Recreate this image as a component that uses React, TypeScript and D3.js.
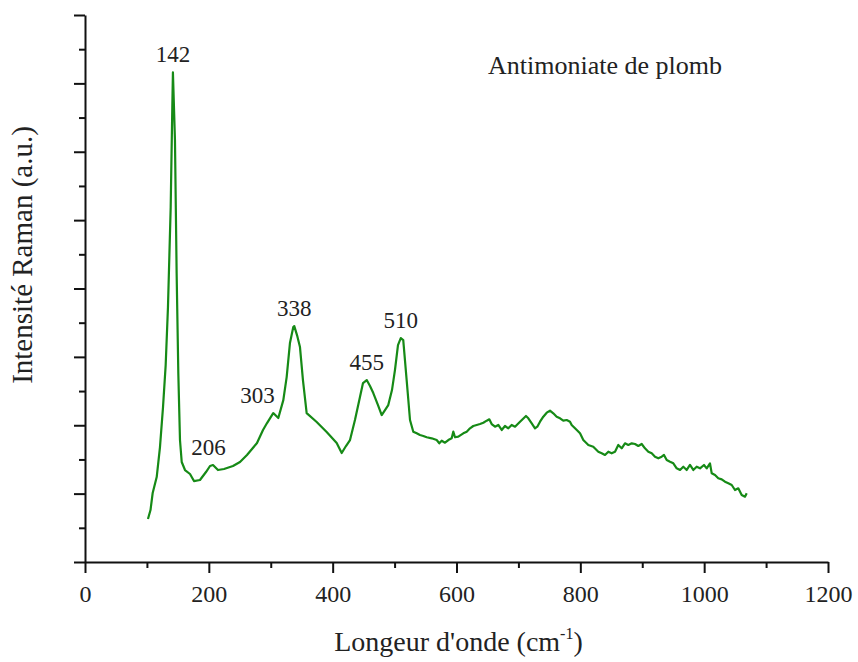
import { useEffect, useRef } from "react";
import * as d3 from "d3";

// Raman spectrum (wavenumber in cm-1, intensity in a.u.)
const wavenumbers = [
  101.7, 105.8, 109.3, 115.8, 121.1, 126, 130.3, 134, 138.4, 141, 142, 145.3, 148, 150.7, 153.4,
  156.2, 161.5, 169.6, 176, 185.7, 195.4, 201.9, 206.7, 214.8, 224.5, 239, 250.3, 261.6, 277.8,
  287.5, 294, 304, 312.2, 320.3, 325.7, 331, 336.4, 338, 342.4, 347.2, 352, 358, 374.2, 390.3,
  406.5, 414.6, 421.5, 428, 436, 444.1, 449, 455, 460.3, 465.6, 473.2, 479.2, 484.5, 489.8, 495.8,
  500.6, 505.5, 510, 514, 519.5, 522.2, 524.9, 530.2, 535.7, 541, 546.4, 551.9, 559.9, 568,
  572.2, 576.1, 581.4, 586.8, 592.2, 594.8, 597.6, 602.9, 611, 616.5, 621.8, 627.1, 632.6, 638,
  643.3, 648.8, 653, 656.8, 662.2, 667.5, 673, 678.3, 683.7, 689.1, 694.5, 702.6, 712.2, 716,
  721.5, 726.8, 730.5, 734.9, 740.2, 745.7, 751, 756.3, 761.8, 767.2, 772.5, 778, 783.3, 786,
  791.4, 799.5, 804.8, 812.9, 820.9, 829, 834.5, 839.8, 845.2, 850.6, 856, 861.3, 866.8, 872.1,
  877.5, 883, 888.3, 893.6, 899.1, 904.4, 909.8, 915.3, 920.6, 925.9, 931.4, 935.1, 939.5, 944.8,
  950.2, 955.6, 961, 966.3, 971.8, 977.1, 982.4, 987.9, 993.3, 999.7, 1004.1, 1009.4, 1012.2,
  1017.5, 1022.8, 1028.3, 1033.6, 1039, 1044.5, 1049.8, 1055.1, 1060.6, 1065.9, 1068.7,
];
const intensities = [
  629, 760, 1009, 1243, 1681, 2266, 2880, 3728, 5190, 6652, 7160, 6170, 4225, 2763, 1784, 1462,
  1345, 1287, 1184, 1199, 1316, 1404, 1418, 1345, 1360, 1404, 1462, 1564, 1740, 1930, 2032, 2178,
  2105, 2368, 2705, 3202, 3436, 3450, 3319, 3143, 2661, 2178, 2047, 1900, 1740, 1594, 1696, 1784,
  2076, 2412, 2617, 2661, 2573, 2471, 2295, 2149, 2222, 2295, 2515, 2807, 3173, 3275, 3246, 2661,
  2369, 2077, 1906, 1882, 1857, 1843, 1824, 1809, 1784, 1736, 1774, 1745, 1784, 1809, 1906, 1824,
  1833, 1882, 1906, 1955, 1989, 2004, 2018, 2037, 2067, 2087, 2018, 1979, 2004, 1931, 1989, 1955,
  2004, 1979, 2052, 2135, 2102, 2028, 1955, 1979, 2052, 2125, 2184, 2213, 2175, 2125, 2102, 2067,
  2077, 2052, 2004, 1955, 1882, 1784, 1711, 1686, 1613, 1590, 1565, 1613, 1590, 1613, 1711, 1663,
  1736, 1711, 1736, 1726, 1697, 1726, 1663, 1613, 1590, 1540, 1517, 1540, 1565, 1492, 1467, 1443,
  1370, 1346, 1394, 1346, 1419, 1346, 1394, 1370, 1419, 1370, 1443, 1297, 1272, 1224, 1209, 1174,
  1151, 1126, 1053, 1078, 980, 955, 1005,
];

const peakPositions = [142, 206, 303, 338, 455, 510];
const peakNames = ["142", "206", "303", "338", "455", "510"];

const xMajorTicks = [0, 200, 400, 600, 800, 1000, 1200];
const xMinorTicks = [100, 300, 500, 700, 900, 1100];
const yMajorTicks = [0, 1000, 2000, 3000, 4000, 5000, 6000, 7000, 8000];
const yMinorTicks = [500, 1500, 2500, 3500, 4500, 5500, 6500, 7500];

const title = "Antimoniate de plomb";

const W = 858;
const H = 662;
const FONT = "'Liberation Serif', 'Times New Roman', serif";
const GREEN = "#168a16";

export default function App() {
  const svgRef = useRef<SVGSVGElement | null>(null);

  useEffect(() => {
    const svg = d3.select(svgRef.current);
    svg.selectAll("*").remove();

    const margin = { top: 15, right: 30, bottom: 100, left: 85 };
    const xScale = d3.scaleLinear().domain([0, 1200]).range([margin.left, 828]);
    const yScale = d3.scaleLinear().domain([0, 8000]).range([H - margin.bottom, margin.top]);

    const data = wavenumbers.map((w, i) => ({ w, v: intensities[i] }));

    // minor ticks first, then major axes on top
    svg
      .append("g")
      .attr("transform", `translate(0, ${yScale(0)})`)
      .call(d3.axisBottom(xScale).tickValues(xMinorTicks).tickSize(6).tickSizeOuter(0).tickFormat(() => ""))
      .call((g) => g.select(".domain").remove());
    svg
      .append("g")
      .attr("transform", `translate(${xScale(0)}, 0)`)
      .call(d3.axisLeft(yScale).tickValues(yMinorTicks).tickSize(6).tickSizeOuter(0).tickFormat(() => ""))
      .call((g) => g.select(".domain").remove());

    const xAxis = svg
      .append("g")
      .attr("transform", `translate(0, ${yScale(0)})`)
      .call(
        d3.axisBottom(xScale).tickValues(xMajorTicks).tickSize(11).tickSizeOuter(0).tickPadding(12).tickFormat(d3.format("d"))
      );
    xAxis.selectAll("text").attr("font-family", FONT).attr("font-size", 24).attr("fill", "#222");

    svg
      .append("g")
      .attr("transform", `translate(${xScale(0)}, 0)`)
      .call(d3.axisLeft(yScale).tickValues(yMajorTicks).tickSize(11).tickSizeOuter(0).tickFormat(() => ""));

    svg.selectAll(".domain, .tick line").attr("stroke", "#111").attr("stroke-width", 2);

    const line = d3
      .line<{ w: number; v: number }>()
      .x((d) => xScale(d.w))
      .y((d) => yScale(d.v));

    svg
      .append("path")
      .datum(data)
      .attr("d", line)
      .attr("fill", "none")
      .attr("stroke", GREEN)
      .attr("stroke-width", 2.2)
      .attr("stroke-linejoin", "round");

    // peak labels, placed just above each peak
    const nudge: Record<string, number> = { "206": -4, "303": -15 };
    peakPositions.forEach((p, i) => {
      const idx = d3.minIndex(wavenumbers, (w) => Math.abs(w - p));
      svg
        .append("text")
        .attr("x", xScale(p) + (nudge[peakNames[i]] || 0))
        .attr("y", yScale(intensities[idx]) - 10)
        .attr("text-anchor", "middle")
        .attr("font-family", FONT)
        .attr("font-size", 23)
        .attr("fill", "#222")
        .text(peakNames[i]);
    });

    svg
      .append("text")
      .attr("x", 488)
      .attr("y", 74)
      .attr("font-family", FONT)
      .attr("font-size", 26)
      .attr("fill", "#222")
      .text(title);

    // axis titles
    const xTitle = svg
      .append("text")
      .attr("x", (xScale(0) + xScale(1200)) / 2 + 2)
      .attr("y", 651)
      .attr("text-anchor", "middle")
      .attr("font-family", FONT)
      .attr("font-size", 28)
      .attr("fill", "#222");
    xTitle.append("tspan").text("Longeur d'onde (cm");
    xTitle.append("tspan").attr("font-size", 16).attr("dy", -12).text("-1");
    xTitle.append("tspan").attr("dy", 12).text(")");

    svg
      .append("text")
      .attr("transform", `translate(32, 255) rotate(-90)`)
      .attr("text-anchor", "middle")
      .attr("font-family", FONT)
      .attr("font-size", 29)
      .attr("fill", "#222")
      .text("Intensité Raman (a.u.)");
  }, []);

  return (
    <svg
      ref={svgRef}
      width={W}
      height={H}
      style={{ position: "absolute", left: 0, top: 0, background: "#fff" }}
    />
  );
}
